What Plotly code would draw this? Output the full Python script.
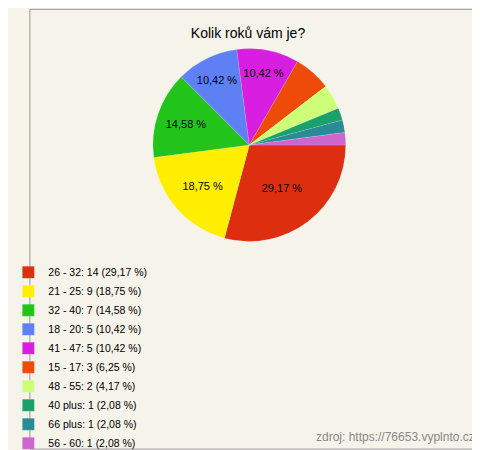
import plotly.graph_objects as go

# data
groups = ["26 - 32", "21 - 25", "32 - 40", "18 - 20", "41 - 47",
          "15 - 17", "48 - 55", "40 plus", "66 plus", "56 - 60"]
counts = [14, 9, 7, 5, 5, 3, 2, 1, 1, 1]
colors = ["#dd2e10", "#ffee00", "#22c41c", "#5f7ff5", "#d81ee0",
          "#ee4a0a", "#ccff77", "#1aa06a", "#2a8a96", "#cc66cc"]

total = sum(counts)
pcts = [c / total * 100 for c in counts]
fmt = lambda p: f"{p:.2f}".replace(".", ",")
labels = [f"{g}: {c} ({fmt(p)} %)" for g, c, p in zip(groups, counts, pcts)]
slice_text = [f"{fmt(p)} %" if p >= 10 else "" for p in pcts]

fig = go.Figure(go.Pie(
    labels=labels, values=counts, sort=False, direction="clockwise",
    rotation=90, text=slice_text, texttemplate="%{text}",
    textposition="inside", insidetextorientation="horizontal",
    textfont=dict(size=11, color="black"),
    marker=dict(colors=colors, line=dict(color="rgba(255,255,255,0.3)", width=0.5)),
    domain=dict(x=[0.27, 0.69], y=[0.47, 0.91]),
    showlegend=True,
))

fig.update_layout(
    width=480, height=450,
    margin=dict(l=0, r=0, t=0, b=0),
    paper_bgcolor="#f5f3ea",
    font=dict(family="Liberation Sans, Arial", size=12, color="black"),
    title=dict(text="Kolik roků vám je?", x=0.5, y=0.955, xanchor="center",
               font=dict(size=14, color="black")),
    legend=dict(x=-0.045, y=0.435, xanchor="left", yanchor="top", itemwidth=30,
                bgcolor="rgba(0,0,0,0)", font=dict(size=10.5), tracegroupgap=0),
    shapes=[dict(type="rect", xref="paper", yref="paper", x0=0.002, y0=0.002,
                 x1=0.996, y1=0.997, line=dict(color="#999999", width=1))],
    annotations=[dict(text="zdroj: https://76653.vyplnto.cz", x=0.975, y=0.01,
                      xref="paper", yref="paper", xanchor="right", yanchor="bottom",
                      showarrow=False, font=dict(size=12, color="#888888"))],
)

fig.write_html("out.html")
